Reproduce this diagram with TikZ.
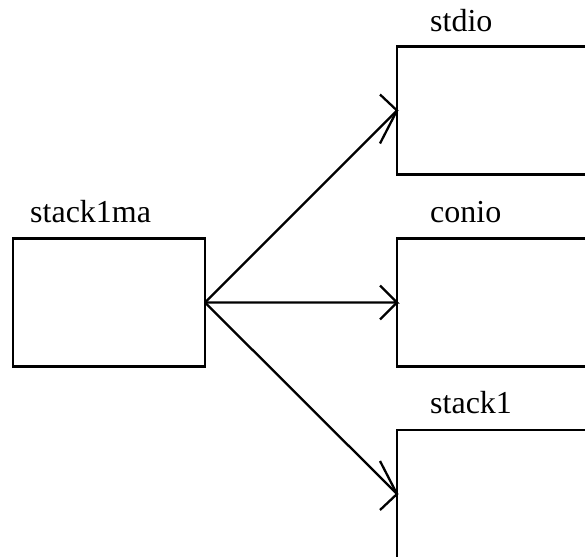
\documentclass[tikz,border=0pt]{standalone}
\usepackage{fontspec}
\setmainfont{Liberation Serif}
\begin{document}
\begin{tikzpicture}[x=1pt,y=-1pt,
  modbox/.style={draw=black,line width=2.3pt,minimum width=192pt,minimum height=128pt,inner sep=0pt,outer sep=0pt},
  modlabel/.style={anchor=base west,inner sep=0pt,font=\fontsize{32}{36}\selectfont},
  dep/.style={line width=2.3pt,line join=miter}]
\useasboundingbox (0,0) rectangle (585,556);
\clip (0,0) rectangle (585,556);
% modules
\node[modbox] (ma) at (109,302.5) {};
\node[modbox] (stdio) at (493,110.5) {};
\node[modbox] (conio) at (493,302.5) {};
\node[modbox] (stack) at (493,494) {};
% names above the boxes
\node[modlabel] (lma) at (30,222) {stack1ma};
\node[modlabel] (lstdio) at (430,32) {stdio};
\node[modlabel] (lconio) at (430,222) {conio};
\node[modlabel] (lstack) at (430,413) {stack1};
% dependencies, each ending in an open arrowhead at the target
\draw[dep] (ma.east) -- (stdio.west) -- ++(-17,-16);
\draw[dep] (stdio.west) -- ++(-17,33);
\draw[dep] (ma.east) -- (conio.west) -- ++(-17,-17);
\draw[dep] (conio.west) -- ++(-17,17);
\draw[dep] (ma.east) -- (stack.west) -- ++(-17,16);
\draw[dep] (stack.west) -- ++(-17,-33);
\end{tikzpicture}
\end{document}
